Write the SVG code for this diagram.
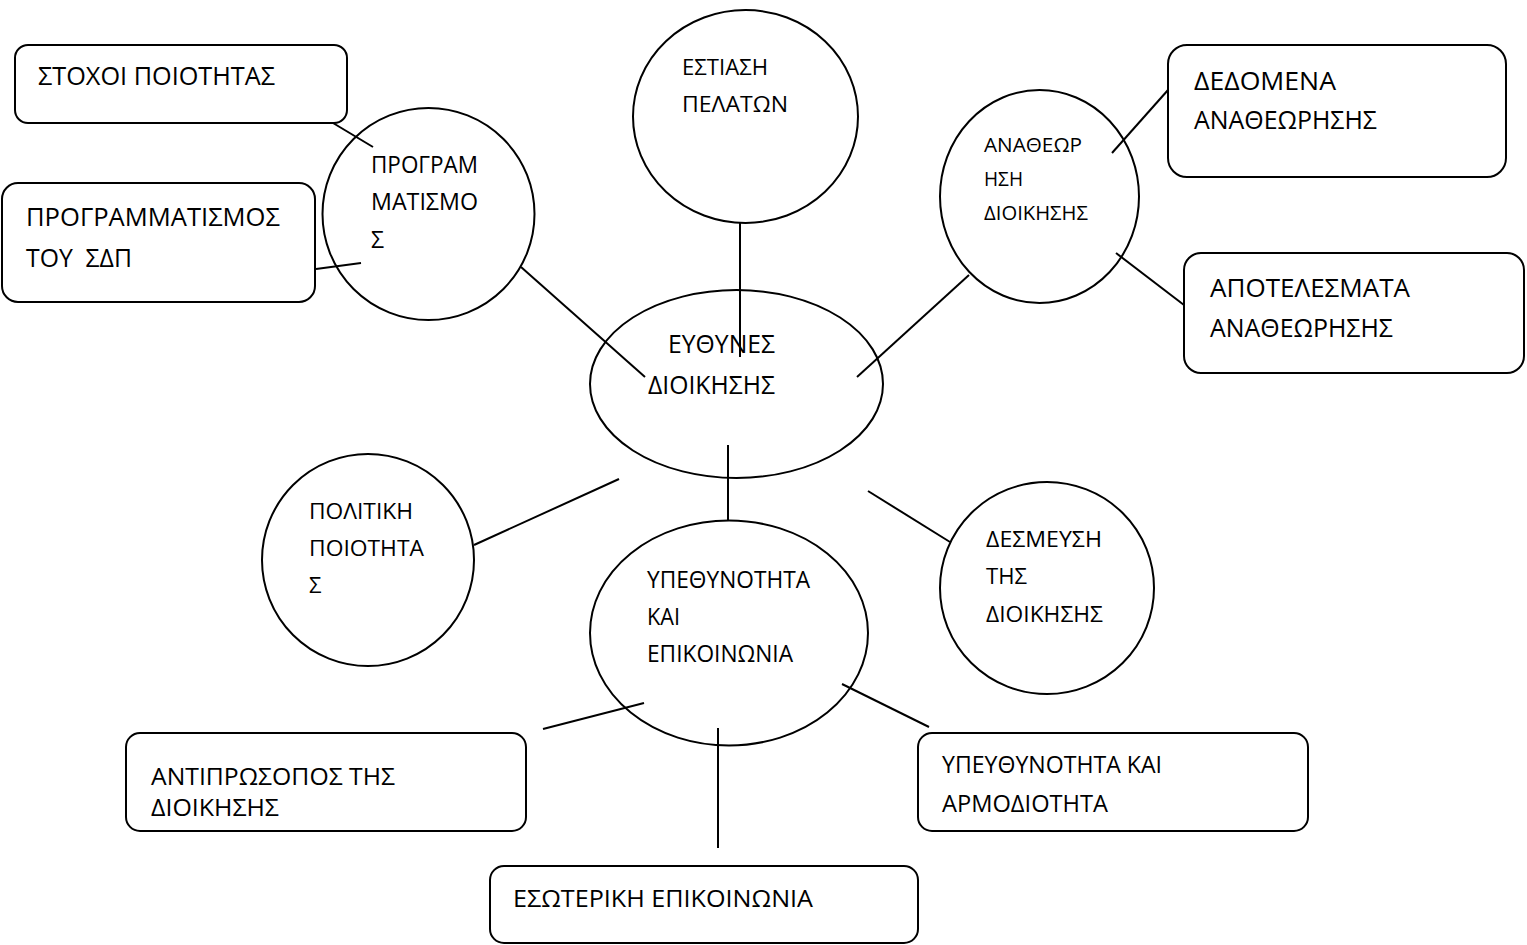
<svg xmlns="http://www.w3.org/2000/svg" width="1527" height="945" viewBox="0 0 1527 945">
  <style>
    .shape { fill: #ffffff; stroke: #000000; stroke-width: 2; }
    .link { stroke: #000000; stroke-width: 2; fill: none; }
    text { font-family: "Open Sans", "Noto Sans", "DejaVu Sans", sans-serif; fill: #000000; white-space: pre; }
    .lg { font-size: 25px; }
    .md { font-size: 23px; }
    .sm { font-size: 22px; }
    .xs { font-size: 20px; }
  </style>
  <rect width="1527" height="945" fill="#ffffff"/>

  <!-- central node -->
  <g id="node-eythynes">
    <ellipse class="shape" cx="736.5" cy="384" rx="146.5" ry="94"/>
    <text class="lg" x="668" y="353" textLength="107" lengthAdjust="spacingAndGlyphs">ΕΥΘΥΝΕΣ</text>
    <text class="lg" x="648" y="394" textLength="127" lengthAdjust="spacingAndGlyphs">ΔΙΟΙΚΗΣΗΣ</text>
  </g>

  <!-- satellite circles -->
  <g id="node-estiasi">
    <ellipse class="shape" cx="745.5" cy="116.5" rx="112.5" ry="106.5"/>
    <text class="sm" x="682" y="75" textLength="86" lengthAdjust="spacingAndGlyphs">ΕΣΤΙΑΣΗ</text>
    <text class="sm" x="682" y="112" textLength="106" lengthAdjust="spacingAndGlyphs">ΠΕΛΑΤΩΝ</text>
  </g>

  <g id="node-programmatismos">
    <circle class="shape" cx="428.5" cy="214" r="106"/>
    <text class="md" x="371" y="173" textLength="107" lengthAdjust="spacingAndGlyphs">ΠΡΟΓΡΑΜ</text>
    <text class="md" x="371" y="210" textLength="107" lengthAdjust="spacingAndGlyphs">ΜΑΤΙΣΜΟ</text>
    <text class="md" x="371" y="248">Σ</text>
  </g>

  <g id="node-anatheorisi">
    <ellipse class="shape" cx="1039.5" cy="196.5" rx="99.5" ry="106.5"/>
    <text class="xs" x="984" y="152" textLength="98" lengthAdjust="spacingAndGlyphs">ΑΝΑΘΕΩΡ</text>
    <text class="xs" x="984" y="186" textLength="39" lengthAdjust="spacingAndGlyphs">ΗΣΗ</text>
    <text class="xs" x="984" y="220" textLength="104" lengthAdjust="spacingAndGlyphs">ΔΙΟΙΚΗΣΗΣ</text>
  </g>

  <g id="node-politiki">
    <circle class="shape" cx="368" cy="560" r="106"/>
    <text class="sm" x="309" y="519" textLength="104" lengthAdjust="spacingAndGlyphs">ΠΟΛΙΤΙΚΗ</text>
    <text class="sm" x="309" y="556" textLength="115" lengthAdjust="spacingAndGlyphs">ΠΟΙΟΤΗΤΑ</text>
    <text class="sm" x="309" y="593">Σ</text>
  </g>

  <g id="node-desmeysi">
    <ellipse class="shape" cx="1047" cy="588" rx="107" ry="106"/>
    <text class="sm" x="986" y="547" textLength="116" lengthAdjust="spacingAndGlyphs">ΔΕΣΜΕΥΣΗ</text>
    <text class="sm" x="986" y="584" textLength="41" lengthAdjust="spacingAndGlyphs">ΤΗΣ</text>
    <text class="sm" x="986" y="622" textLength="117" lengthAdjust="spacingAndGlyphs">ΔΙΟΙΚΗΣΗΣ</text>
  </g>

  <g id="node-ypethynotita">
    <ellipse class="shape" cx="729" cy="633" rx="139" ry="112.5"/>
    <text class="md" x="647" y="588" textLength="163" lengthAdjust="spacingAndGlyphs">ΥΠΕΘΥΝΟΤΗΤΑ</text>
    <text class="md" x="647" y="625" textLength="33" lengthAdjust="spacingAndGlyphs">ΚΑΙ</text>
    <text class="md" x="647" y="662" textLength="146" lengthAdjust="spacingAndGlyphs">ΕΠΙΚΟΙΝΩΝΙΑ</text>
  </g>

  <!-- rounded boxes -->
  <g id="node-stoxoi">
    <rect class="shape" x="15" y="45" width="332" height="78" rx="13"/>
    <text class="lg" x="38" y="85" textLength="237" lengthAdjust="spacingAndGlyphs">ΣΤΟΧΟΙ ΠΟΙΟΤΗΤΑΣ</text>
  </g>

  <g id="node-programmatismos-sdp">
    <rect class="shape" x="2" y="183" width="313" height="119" rx="16"/>
    <text class="lg" x="26" y="226" textLength="254" lengthAdjust="spacingAndGlyphs">ΠΡΟΓΡΑΜΜΑΤΙΣΜΟΣ</text>
    <text class="lg" x="26" y="267" textLength="106" lengthAdjust="spacingAndGlyphs">ΤΟΥ  ΣΔΠ</text>
  </g>

  <g id="node-dedomena">
    <rect class="shape" x="1168" y="45" width="338" height="132" rx="19"/>
    <text class="lg" x="1194" y="90" textLength="142" lengthAdjust="spacingAndGlyphs">ΔΕΔΟΜΕΝΑ</text>
    <text class="lg" x="1194" y="129" textLength="183" lengthAdjust="spacingAndGlyphs">ΑΝΑΘΕΩΡΗΣΗΣ</text>
  </g>

  <g id="node-apotelesmata">
    <rect class="shape" x="1184" y="253" width="340" height="120" rx="17"/>
    <text class="lg" x="1210" y="297" textLength="200" lengthAdjust="spacingAndGlyphs">ΑΠΟΤΕΛΕΣΜΑΤΑ</text>
    <text class="lg" x="1210" y="337" textLength="183" lengthAdjust="spacingAndGlyphs">ΑΝΑΘΕΩΡΗΣΗΣ</text>
  </g>

  <g id="node-antiprosopos">
    <rect class="shape" x="126" y="733" width="400" height="98" rx="14"/>
    <text class="md" x="151" y="785" textLength="244" lengthAdjust="spacingAndGlyphs">ΑΝΤΙΠΡΩΣΟΠΟΣ ΤΗΣ</text>
    <text class="md" x="151" y="816" textLength="128" lengthAdjust="spacingAndGlyphs">ΔΙΟΙΚΗΣΗΣ</text>
  </g>

  <g id="node-esoteriki">
    <rect class="shape" x="490" y="866" width="428" height="77" rx="14"/>
    <text class="md" x="513" y="907" textLength="300" lengthAdjust="spacingAndGlyphs">ΕΣΩΤΕΡΙΚΗ ΕΠΙΚΟΙΝΩΝΙΑ</text>
  </g>

  <g id="node-ypeythynotita-armodiotita">
    <rect class="shape" x="918" y="733" width="390" height="98" rx="14"/>
    <text class="md" x="942" y="773" textLength="220" lengthAdjust="spacingAndGlyphs">ΥΠΕΥΘΥΝΟΤΗΤΑ ΚΑΙ</text>
    <text class="md" x="942" y="812" textLength="166" lengthAdjust="spacingAndGlyphs">ΑΡΜΟΔΙΟΤΗΤΑ</text>
  </g>

  <!-- connectors -->
  <g id="connectors">
    <line class="link" x1="333" y1="123" x2="373" y2="147"/>
    <line class="link" x1="316" y1="269" x2="361" y2="263"/>
    <line class="link" x1="521" y1="267" x2="645" y2="377"/>
    <line class="link" x1="740" y1="223" x2="740" y2="357"/>
    <line class="link" x1="1168" y1="90" x2="1112" y2="153"/>
    <line class="link" x1="1116" y1="253" x2="1184" y2="305"/>
    <line class="link" x1="969" y1="275" x2="857" y2="377"/>
    <line class="link" x1="728" y1="445" x2="728" y2="521"/>
    <line class="link" x1="474" y1="545" x2="619" y2="479"/>
    <line class="link" x1="868" y1="491" x2="950" y2="542"/>
    <line class="link" x1="644" y1="703" x2="543" y2="729"/>
    <line class="link" x1="718" y1="728" x2="718" y2="848"/>
    <line class="link" x1="842" y1="684" x2="929" y2="727"/>
  </g>
</svg>
